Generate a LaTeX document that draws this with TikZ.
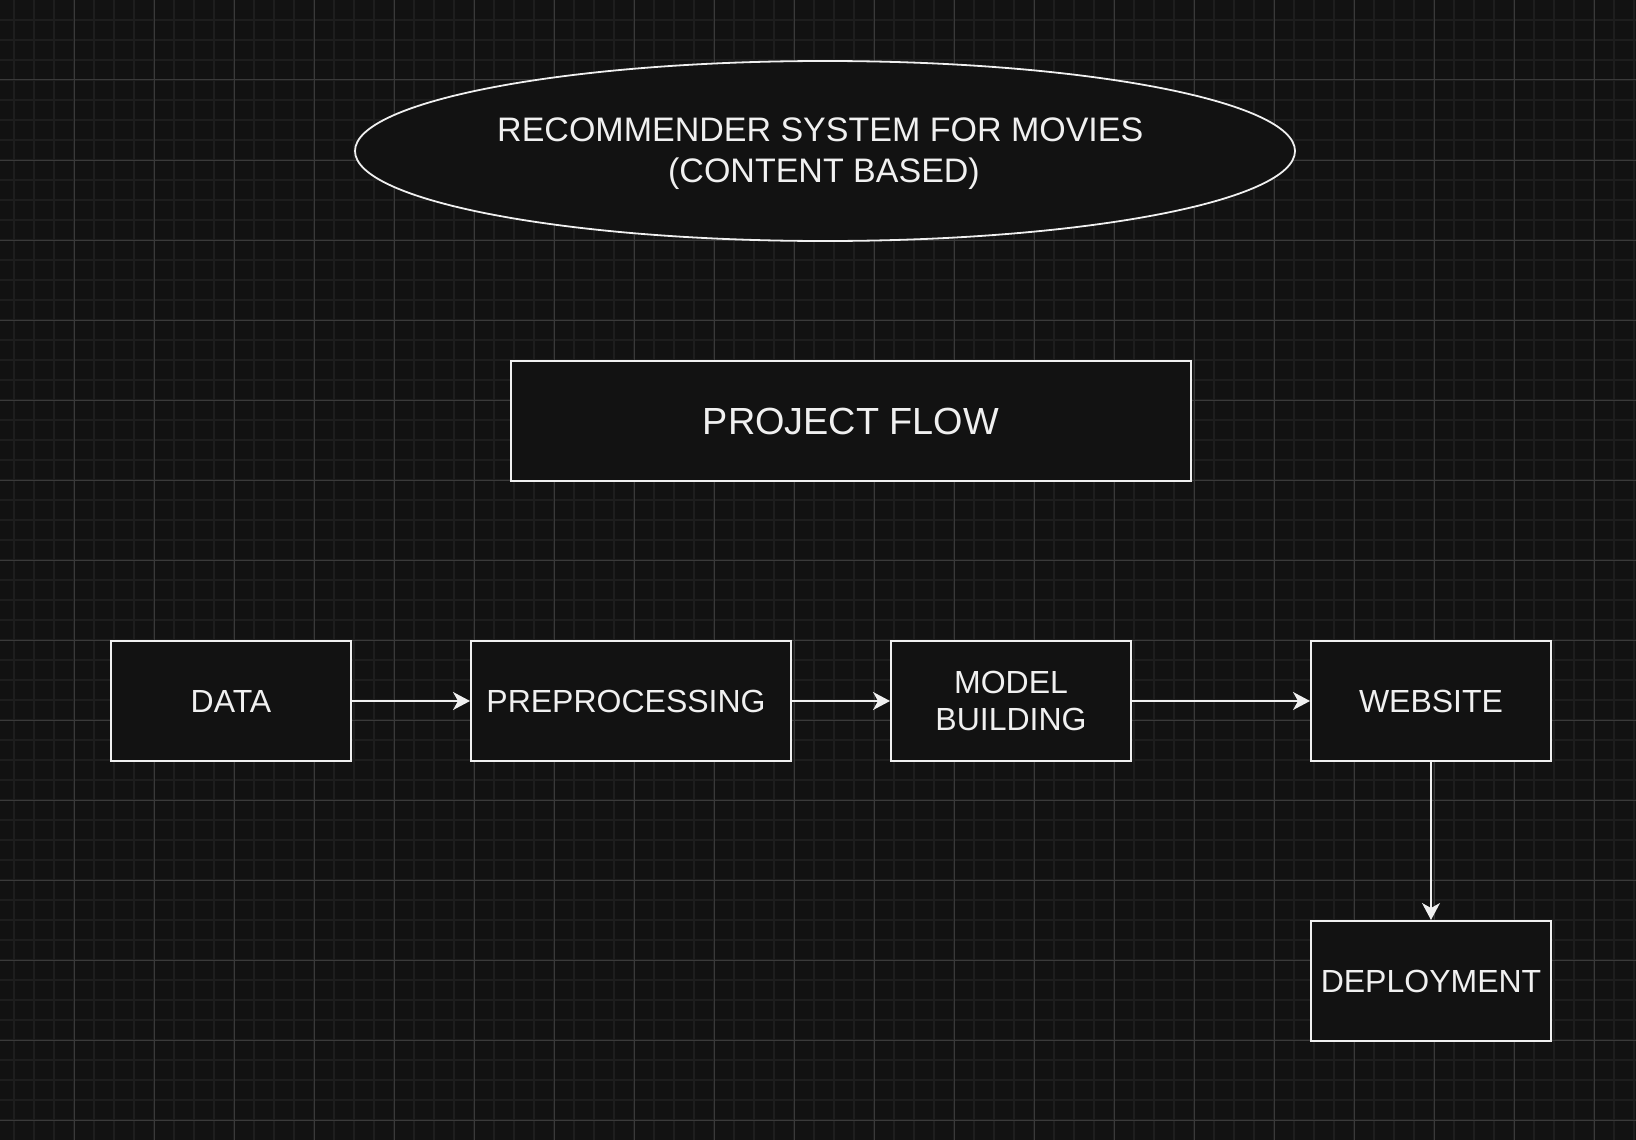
\documentclass[tikz,border=0pt]{standalone}
\usepackage{fontspec}
\setmainfont{Liberation Sans}
\usetikzlibrary{shapes.geometric,arrows.meta}
\definecolor{bg}{HTML}{121212}
\definecolor{gridminor}{HTML}{1E1E1E}
\definecolor{gridmajor}{HTML}{3A3A3A}
\definecolor{fg}{HTML}{F0F0F0}
\begin{document}
\begin{tikzpicture}[x=1pt,y=-1pt,
  box/.style={draw=fg, line width=2pt, fill=bg, text=fg, minimum width=240pt, minimum height=120pt, inner sep=0pt, align=center, font=\fontsize{32}{37.5}\selectfont},
  titleell/.style={ellipse, draw=fg, line width=1.8pt, fill=bg, text=fg, minimum width=940pt, minimum height=180pt, inner sep=0pt, align=center, font=\fontsize{34}{40.5}\selectfont},
  flow/.style={draw=fg, line width=1.5pt, -{Stealth[length=17pt,width=18pt,inset=5pt]}},
  minorline/.style={draw=gridminor, line width=1.6pt},
  majorline/.style={draw=gridmajor, line width=1pt}]
\fill[bg] (0,0) rectangle (1636,1140);
\useasboundingbox (0,0) rectangle (1636,1140);
\foreach \x in {14,34,...,1634} \draw[minorline] (\x,0) -- (\x,1140);
\foreach \y in {20,40,...,1120} \draw[minorline] (0,\y) -- (1636,\y);
\foreach \x in {74,154,...,1594} \draw[majorline] (\x,0) -- (\x,1140);
\foreach \y in {80,160,...,1120} \draw[majorline] (0,\y) -- (1636,\y);

\node[titleell] (title) at (825,151) {\rule{0pt}{29pt}RECOMMENDER SYSTEM FOR MOVIES\hspace*{9.5pt}\\(CONTENT BASED)\hspace*{2pt}};
\node[box, minimum width=680pt, font=\fontsize{37.8}{45}\selectfont] (pflow) at (851,421) {PROJECT FLOW};

\node[box] (data) at (231,701) {DATA};
\node[box, minimum width=320pt] (prep) at (631,701) {PREPROCESSING\hspace*{10pt}};
\node[box] (model) at (1011,701) {MODEL\\BUILDING};
\node[box] (web) at (1431,701) {WEBSITE};
\node[box] (deploy) at (1431,981) {DEPLOYMENT};

\draw[flow] (data.east) -- (prep.west);
\draw[flow] (prep.east) -- (model.west);
\draw[flow] (model.east) -- (web.west);
\draw[flow] (web.south) -- (deploy.north);
\end{tikzpicture}
\end{document}
